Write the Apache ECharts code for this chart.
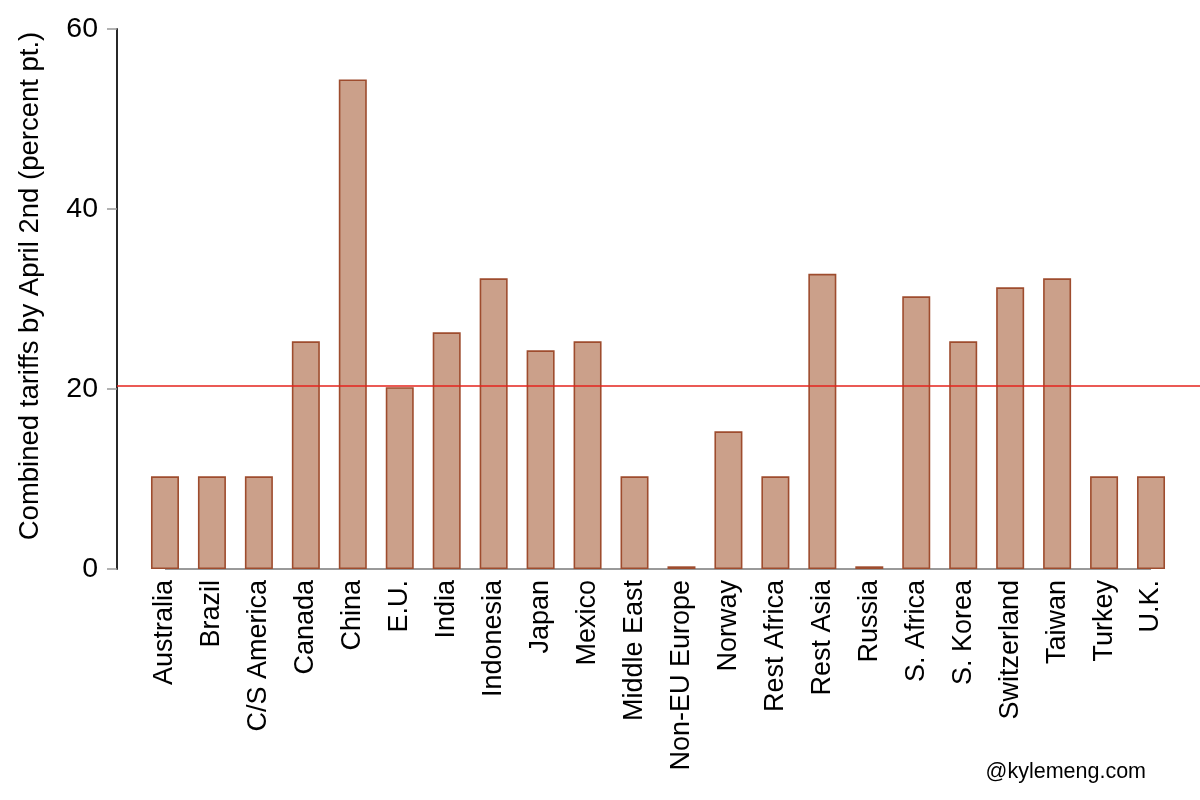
<!DOCTYPE html>
<html>
<head>
<meta charset="utf-8">
<script src="https://cdn.jsdelivr.net/npm/echarts@6/dist/echarts.min.js"></script>
<style>html,body{margin:0;padding:0;background:#fff;}#chart{width:1200px;height:800px;}</style>
</head>
<body>
<div id="chart"></div>
<script>
const categories = ['Australia','Brazil','C/S America','Canada','China','E.U.','India','Indonesia','Japan','Mexico','Middle East','Non-EU Europe','Norway','Rest Africa','Rest Asia','Russia','S. Africa','S. Korea','Switzerland','Taiwan','Turkey','U.K.'];
const tariffs = [10.3,10.3,10.3,25.3,54.4,20.2,26.3,32.3,24.3,25.3,10.3,0.3,15.3,10.3,32.8,0.3,30.3,25.3,31.3,32.3,10.3,10.3];
const averageLine = 20.4;
const yTicks = [0,20,40,60];
const baseline = categories.map(() => 0);
const yName = 'Combined tariffs by April 2nd (percent pt.)';
const credit = '@kylemeng.com';

const font = '"Liberation Sans", Arial, Helvetica, sans-serif';
const chart = echarts.init(document.getElementById('chart'), null, {renderer:'canvas'});
chart.setOption({
  animation: false,
  backgroundColor: '#fff',
  title: {
    text: credit, right: 49, bottom: 12,
    textStyle: {fontFamily: font, fontSize: 21.5, fontWeight: 'normal', color: '#000'}
  },
  grid: [
    {left: 141.5, right: 25.5, top: 29, bottom: 231},
    {left: 117, right: 0, top: 29, bottom: 231}
  ],
  xAxis: [
    {
      type: 'category', gridIndex: 0, data: categories,
      axisLine: {show: false}, axisTick: {show: false},
      axisLabel: {interval: 0, rotate: 90, margin: 11, fontSize: 27, color: '#000', fontFamily: font}
    },
    {type: 'category', gridIndex: 1, data: ['a','b'], show: false}
  ],
  yAxis: [
    {type: 'value', gridIndex: 0, min: yTicks[0], max: yTicks[yTicks.length-1], interval: 20, show: false},
    {
      type: 'value', gridIndex: 1, min: yTicks[0], max: yTicks[yTicks.length-1], interval: 20,
      name: yName, nameLocation: 'middle', nameGap: 73, nameRotate: 90,
      nameTextStyle: {fontFamily: font, fontSize: 27.5, color: '#000', padding: [0, 0, 0, 26]},
      axisLine: {show: true, lineStyle: {color: '#111', width: 1.8}},
      axisTick: {show: true, length: 10, lineStyle: {color: '#999', width: 1.5}},
      axisLabel: {margin: 19, fontSize: 28.5, color: '#000', fontFamily: font},
      splitLine: {show: false}
    }
  ],
  series: [
    {
      type: 'line', xAxisIndex: 1, yAxisIndex: 1, data: [], z: 1,
      markLine: {
        silent: true, symbol: 'none', label: {show: false},
        lineStyle: {color: '#e5231d', width: 1.6, type: 'solid'},
        data: [{yAxis: averageLine}]
      }
    },
    {
      type: 'line', xAxisIndex: 0, yAxisIndex: 0, data: baseline, z: 1,
      symbol: 'none', lineStyle: {color: '#9a9a9a', width: 2}
    },
    {
      type: 'bar', xAxisIndex: 0, yAxisIndex: 0, data: tariffs, barWidth: 28, z: 3,
      itemStyle: {color: '#cba08a', borderColor: '#9e4c2e', borderWidth: 1.6}
    }
  ]
});
</script>
</body>
</html>
